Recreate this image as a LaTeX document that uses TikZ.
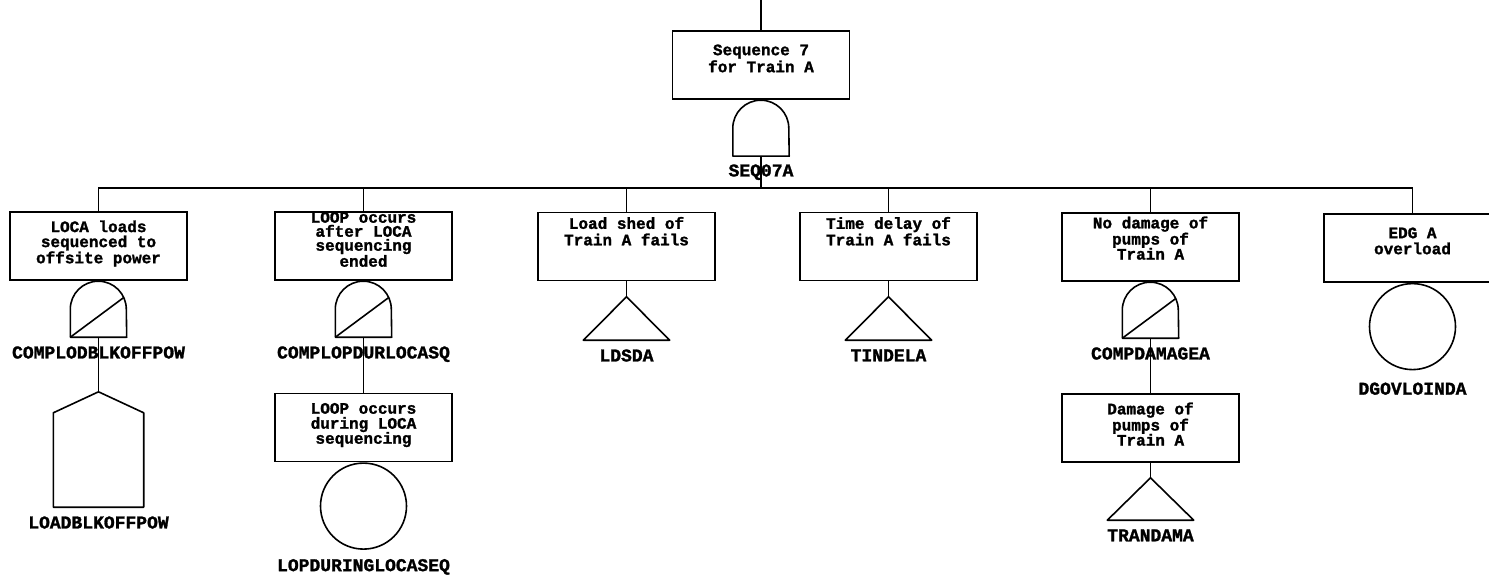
\documentclass[tikz,border=0pt]{standalone}
\usepackage{fontspec}
\setmonofont{Liberation Mono}[BoldFeatures={FakeBold=1.5}]
\usepackage{tikz}
\usetikzlibrary{positioning}
\newcommand{\evtext}[3]{\parbox[c][68pt][t]{172pt}{\fontsize{16}{#2}\selectfont\centering\vspace*{#1}#3\par}}
\tikzset{
  evbox/.style={draw, line width=1.6pt, inner sep=0pt, minimum width=177pt, minimum height=68pt, font=\ttfamily\bfseries},
  gatebox/.style={inner sep=0pt, minimum width=56pt, minimum height=56pt},
  tribox/.style={inner sep=0pt, minimum width=86pt, minimum height=43pt},
  basic/.style={draw, circle, line width=1.6pt, inner sep=0pt, minimum size=86pt},
  symline/.style={line width=1.6pt, line join=round},
  conn/.style={line width=1.6pt},
  evlabel/.style={font=\ttfamily\bfseries\fontsize{18}{20}\selectfont, inner sep=0pt, label distance=9pt}
}

\begin{document}
\begin{tikzpicture}[x=1pt, y=-1pt]
    \useasboundingbox (0,0) rectangle (1489,575);
    \coordinate (top) at (761,0);
    \coordinate (bus) at (0,188);

    % top event
    \node[evbox] (b0) at (761,65) {\evtext{13.5pt}{17pt}{Sequence 7\\for Train A}};
    \node[gatebox, below=0pt of b0, label={[evlabel, label distance=8pt]below:SEQ07A}] (g0) {};

    % first row of events
    \node[evbox] (b1) at (98.5,246) {\evtext{8.5pt}{15pt}{LOCA loads\\sequenced to\\offsite power}};
    \node[evbox] (b2) at (363.5,246) {\evtext{0pt}{14pt}{LOOP occurs\\after LOCA\\sequencing\\ended}};
    \node[evbox] (b3) at (626.5,246.5) {\evtext{4.5pt}{16.5pt}{Load shed of\\Train A fails}};
    \node[evbox] (b4) at (888.5,246.5) {\evtext{4.5pt}{16.5pt}{Time delay of\\Train A fails}};
    \node[evbox] (b5) at (1150.5,247) {\evtext{3.5pt}{15pt}{No damage of\\pumps of\\Train A}};
    \node[evbox] (b6) at (1412.5,248) {\evtext{13.5pt}{16pt}{EDG A\\overload}};

    % gates under the events
    \node[gatebox, below=0pt of b1, label={[evlabel]below:COMPLODBLKOFFPOW}] (g1) {};
    \node[gatebox, below=0pt of b2, label={[evlabel]below:COMPLOPDURLOCASQ}] (g2) {};
    \node[gatebox, below=0pt of b5, label={[evlabel]below:COMPDAMAGEA}] (g5) {};

    % lower events
    \node[minimum width=90pt, minimum height=115pt, inner sep=0pt, label={[evlabel]below:LOADBLKOFFPOW}] (h1) at (98.5,449.5) {};
    \node[evbox] (b7) at (363.5,427.5) {\evtext{9.5pt}{15pt}{LOOP occurs\\during LOCA\\sequencing}};
    \node[basic, below=0pt of b7, label={[evlabel]below:LOPDURINGLOCASEQ}] (c7) {};
    \node[tribox, label={[evlabel]below:LDSDA}] (t3) at (626.5,318.5) {};
    \node[tribox, label={[evlabel]below:TINDELA}] (t4) at (888.5,318.5) {};
    \node[evbox] (b8) at (1150.5,428) {\evtext{8.5pt}{15pt}{Damage of\\pumps of\\Train A}};
    \node[tribox, minimum height=42pt, label={[evlabel]below:TRANDAMA}] (t8) at (1150.5,499) {};
    \node[basic, below=0pt of b6, label={[evlabel, label distance=12pt]below:DGOVLOINDA}] (c6) {};

    % connectors
    \draw[conn] (top) -- (b0.north);
    \draw[conn] (g0.south) -- (g0.south |- bus);
    \draw[conn] (b1.north) |- (bus -| b6.north) -- (b6.north);
    \foreach \b in {b2,b3,b4,b5}
      \draw[conn] (\b.north) -- (\b.north |- bus);
    \draw[conn] (g1.south) -- (h1.north);
    \draw[conn] (g2.south) -- (b7.north);
    \draw[conn] (g5.south) -- (b8.north);
    \draw[conn] (b3.south) -- (t3.north);
    \draw[conn] (b4.south) -- (t4.north);
    \draw[conn] (b8.south) -- (t8.north);

    % gate and event symbols
    \foreach \g in {g0,g1,g2,g5}
      \draw[symline] (\g.south west) -- ++(0,-28) arc[start angle=180, end angle=360, radius=28] -- (\g.south east) -- cycle;
    \foreach \g in {g1,g2,g5}
      \draw[symline] (\g.south west) -- ([shift={(25.4,-39.8)}]\g.south);
    \foreach \t in {t3,t4,t8}
      \draw[symline] (\t.north) -- (\t.south east) -- (\t.south west) -- cycle;
    \draw[symline] (h1.north) -- ([yshift=-21pt]h1.north east) -- (h1.south east) -- (h1.south west) -- ([yshift=-21pt]h1.north west) -- cycle;
\end{tikzpicture}
\end{document}
